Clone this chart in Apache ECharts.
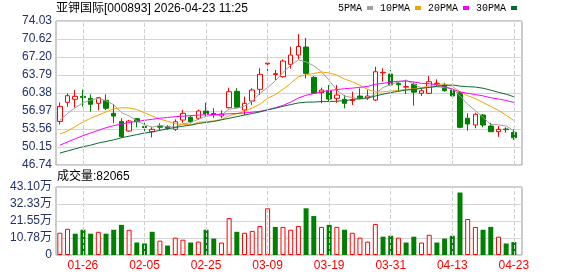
<!DOCTYPE html>
<html><head><meta charset="utf-8">
<script src="https://cdn.jsdelivr.net/npm/echarts@6/dist/echarts.min.js"></script>
<style>html,body{margin:0;padding:0;background:#fff}#c{width:578px;height:276px}</style>
</head><body><div id="c"></div>
<script>
const titleText = '亚钾国际[000893] 2026-04-23 11:25';
const volTitle = '成交量:82065';
const dates = ['01-21','01-22','01-23','01-26','01-27','01-28','01-29','01-30','02-02','02-03',
'02-04','02-05','02-06','02-09','02-10','02-11','02-12','02-13','02-24','02-25',
'02-26','02-27','03-02','03-03','03-04','03-05','03-06','03-09','03-10','03-11',
'03-12','03-13','03-16','03-17','03-18','03-19','03-20','03-23','03-24','03-25',
'03-26','03-27','03-30','03-31','04-01','04-02','04-03','04-07','04-08','04-09',
'04-10','04-13','04-14','04-15','04-16','04-17','04-20','04-21','04-22','04-23'];
const labelDates = ['01-26','02-05','02-25','03-09','03-19','03-31','04-13','04-23'];
const opens = [55.0,58.62,59.19,59.75,59.38,58.43,59.0,56.53,55.0,53.18,
55.51,54.05,53.05,54.13,54.0,53.5,55.26,55.78,55.6,56.97,
56.5,56.05,57.6,60.7,57.16,58.86,61.08,65.9,63.9,63.47,
65.82,67.58,69.1,63.35,60.44,60.76,59.38,59.18,58.95,59.81,
59.43,59.05,64.2,63.98,62.2,61.5,62.05,60.32,60.32,62.15,
61.9,60.95,60.44,55.59,54.32,56.21,54.13,53.05,53.56,52.93];
const closes = [57.85,59.87,59.75,59.55,58.24,59.49,57.48,56.02,52.10,55.07,
54.94,53.85,53.5,53.9,53.7,54.94,56.53,54.94,56.97,56.4,
56.3,56.4,60.63,57.7,58.43,60.95,63.92,66.05,64.05,66.44,
67.58,69.19,64.11,60.32,60.95,59.24,60.0,58.43,59.05,59.49,
59.81,64.41,64.3,61.9,61.95,61.6,60.55,60.82,62.52,62.25,
60.82,59.81,53.88,54.51,56.35,54.32,53.05,53.5,53.45,51.91];
const lows = [54.4,57.78,57.62,57.78,56.84,57.1,57.16,54.64,51.91,53.05,
53.88,53.05,51.95,53.37,53.4,53.2,54.75,54.6,55.3,56.02,
55.7,55.6,57.48,57.6,56.2,58.1,60.0,64.41,62.84,63.28,
65.0,66.82,63.16,60.19,58.43,58.86,58.54,57.48,58.1,59.19,
59.05,58.86,62.52,61.8,60.63,60.19,58.0,59.81,60.19,61.7,
60.63,59.68,53.69,53.24,53.69,53.88,52.99,52.1,52.86,51.48];
const highs = [58.6,60.32,60.95,61.0,60.13,59.6,60.13,58.24,55.6,55.3,
55.6,55.4,54.0,54.64,54.3,55.4,57.16,56.1,57.2,58.54,
57.5,57.1,61.38,61.3,59.7,61.27,65.06,66.95,64.74,66.76,
69.15,71.56,70.8,63.6,61.4,61.9,61.9,60.0,60.63,61.27,
60.95,65.36,65.06,64.74,62.52,62.84,62.4,61.27,63.6,62.98,
62.33,61.08,60.63,56.53,56.65,56.4,54.75,54.13,53.88,53.5];
const ma5 = [55.2,56.5,57.6,58.5,59.05,59.38,58.90,58.16,56.67,56.03,
55.12,54.40,53.89,54.25,53.98,53.98,54.51,54.80,55.42,55.96,
56.23,56.20,57.34,57.49,57.89,58.82,60.33,61.41,62.68,64.28,
65.61,66.66,66.27,65.53,64.43,62.76,60.92,59.79,59.53,59.24,
59.36,60.24,61.41,61.98,62.48,62.84,62.06,61.37,61.49,61.55,
61.39,61.24,59.86,58.25,57.07,55.77,54.42,54.35,54.13,53.25];
const ma10 = [52.6,53.2,54.0,54.9,55.6,56.2,56.8,57.4,57.6,57.54,
57.25,56.65,56.02,55.46,55.01,54.55,54.46,54.35,54.83,54.97,
55.10,55.36,56.07,56.45,56.92,57.53,58.26,59.38,60.08,61.09,
62.22,63.49,63.84,64.10,64.36,64.19,63.79,63.03,62.53,61.84,
61.06,60.58,60.60,60.76,60.86,61.09,61.15,61.39,61.73,62.01,
62.11,61.65,60.61,59.87,59.31,58.58,57.83,57.10,56.19,55.16];
const ma20 = [50.5,51.1,51.7,52.3,52.8,53.3,53.8,54.2,54.5,54.8,
55.0,55.2,55.4,55.6,55.75,55.9,56.0,56.1,56.2,56.25,
56.3,56.35,56.45,56.5,56.6,56.75,56.9,57.2,57.6,58.03,
58.66,59.43,59.96,60.28,60.64,60.86,61.03,61.20,61.31,61.46,
61.64,62.04,62.22,62.45,62.61,62.64,62.47,62.21,62.14,61.93,
61.59,61.12,60.61,60.32,60.09,59.84,59.49,59.25,58.97,58.59];
const ma30 = [49.0,49.4,49.8,50.2,50.5,50.9,51.2,51.5,51.9,52.2,
52.5,52.8,53.0,53.3,53.6,53.85,54.1,54.3,54.6,54.8,
55.0,55.3,55.6,55.9,56.2,56.5,56.8,57.2,57.5,57.87,
58.19,58.50,58.65,58.67,58.76,58.75,58.84,58.92,59.15,59.30,
59.46,59.81,60.17,60.45,60.72,60.94,61.07,61.27,61.45,61.65,
61.80,61.91,61.69,61.58,61.51,61.29,60.93,60.51,60.16,59.67];
const volumes = [14.1,16.6,13.5,16.0,13.5,14.7,13.5,16.0,19.1,16.0,
7.9,7.3,14.7,9.1,6.0,11.0,9.7,7.9,8.5,16.0,
10.4,7.9,23.4,14.7,14.1,15.3,18.4,29.6,17.8,17.8,
16.0,18.4,29.6,24.7,17.8,19.1,17.8,16.0,14.1,11.0,
8.5,19.7,11.6,12.2,11.0,7.9,11.6,7.9,12.8,7.9,
10.4,12.2,39.6,22.8,17.8,16.0,17.8,11.6,7.3,8.21];
const priceTicks = ['46.74','50.15','53.56','56.97','60.38','63.79','67.20','70.62','74.03'];
const volTicks = ['0','10.78万','21.55万','32.33万','43.10万'];
const maNames = ['5PMA','10PMA','20PMA','30PMA'];

const RED = '#ff0000', GREEN = '#008000';
const maColors = ['#a0a0a0','#f5a300','#ff00ff','#0a6b35'];
const labelColor = '#22306b';
const FONT = 'Liberation Sans, Arial, Noto Sans CJK SC, sans-serif';

const chart = echarts.init(document.getElementById('c'), null, {renderer:'canvas'});
const candleData = dates.map((d,i)=>[opens[i], closes[i], lows[i], highs[i]]);
const volData = volumes.map((v,i)=>{
  const up = i===0 ? closes[i]>=opens[i] : closes[i]>=closes[i-1];
  return {value:v, itemStyle: up ? {color:'#fff', borderColor:RED, borderWidth:1} : {color:GREEN, borderColor:GREEN, borderWidth:0}};
});
const markLineDef = {
  symbol:['none','none'], silent:true, label:{show:false},
  lineStyle:{type:'dashed', color:'#cfcfcf', width:1},
  emphasis:{disabled:true},
  data: labelDates.map(d=>({xAxis:d}))
};
const dataW = 461.7;
const option = {
  animation:false,
  title:{text:titleText, left:56, top:3, padding:0,
    textStyle:{fontSize:12, fontWeight:'normal', fontFamily:FONT, color:'#000'}},
  legend:{data:maNames, left:338, top:3, padding:0, align:'right', icon:'rect',
    itemWidth:6, itemHeight:4, itemGap:7,
    textStyle:{fontFamily:'Liberation Mono, monospace', fontSize:10, color:'#000', padding:[0,0,0,0]}},
  graphic:[{type:'text', left:57, top:171, style:{text:volTitle, fontSize:12, fontFamily:FONT, fill:'#000'}}],
  grid:[
    {left:56, top:21, width:466, height:144, show:true, borderColor:'#999', borderWidth:1, backgroundColor:'transparent'},
    {left:56, top:21, width:dataW, height:144},
    {left:56, top:187, width:466, height:68, show:true, borderColor:'#999', borderWidth:1, backgroundColor:'transparent'},
    {left:56, top:187, width:dataW, height:68}
  ],
  xAxis:[
    {gridIndex:0, type:'value', min:0, max:1, show:false},
    {gridIndex:1, type:'category', data:dates, show:false},
    {gridIndex:2, type:'value', min:0, max:1, show:false},
    {gridIndex:3, type:'category', data:dates,
      axisLine:{show:false}, axisTick:{show:false}, splitLine:{show:false},
      axisLabel:{interval:(i,v)=>labelDates.indexOf(v)>=0, color:RED, fontSize:12, fontFamily:FONT, margin:5}}
  ],
  yAxis:[
    {gridIndex:0, type:'value', min:0, max:priceTicks.length-1, interval:1,
      axisLine:{show:false}, axisTick:{show:false},
      axisLabel:{formatter:v=>priceTicks[v], color:labelColor, fontSize:12, fontFamily:FONT, margin:4},
      splitLine:{lineStyle:{color:'#d4d4d4', width:1}}},
    {gridIndex:1, type:'value', min:+priceTicks[0], max:+priceTicks[priceTicks.length-1], show:false},
    {gridIndex:2, type:'value', min:0, max:volTicks.length-1, interval:1,
      axisLine:{show:false}, axisTick:{show:false},
      axisLabel:{formatter:v=>volTicks[v], color:labelColor, fontSize:12, fontFamily:FONT, margin:4},
      splitLine:{lineStyle:{color:'#d4d4d4', width:1}}},
    {gridIndex:3, type:'value', min:0, max:parseFloat(volTicks[volTicks.length-1]), show:false}
  ],
  series:[
    {type:'line', xAxisIndex:1, yAxisIndex:1, data:[], z:1, silent:true, markLine:markLineDef},
    {type:'line', xAxisIndex:3, yAxisIndex:3, data:[], z:1, silent:true, markLine:markLineDef},
    {type:'candlestick', xAxisIndex:1, yAxisIndex:1, data:candleData, barWidth:5, z:3,
      itemStyle:{color:'#fff', color0:GREEN, borderColor:RED, borderColor0:GREEN, borderWidth:1}},
    ...[ma5,ma10,ma20,ma30].map((arr,k)=>({
      name:maNames[k], type:'line', xAxisIndex:1, yAxisIndex:1, data:arr, z:4,
      symbol:'none', showSymbol:false, smooth:false,
      lineStyle:{color:maColors[k], width:1}, itemStyle:{color:maColors[k]}
    })),
    {type:'bar', xAxisIndex:3, yAxisIndex:3, data:volData, barWidth:5, z:3}
  ]
};
chart.setOption(option);
</script></body></html>
